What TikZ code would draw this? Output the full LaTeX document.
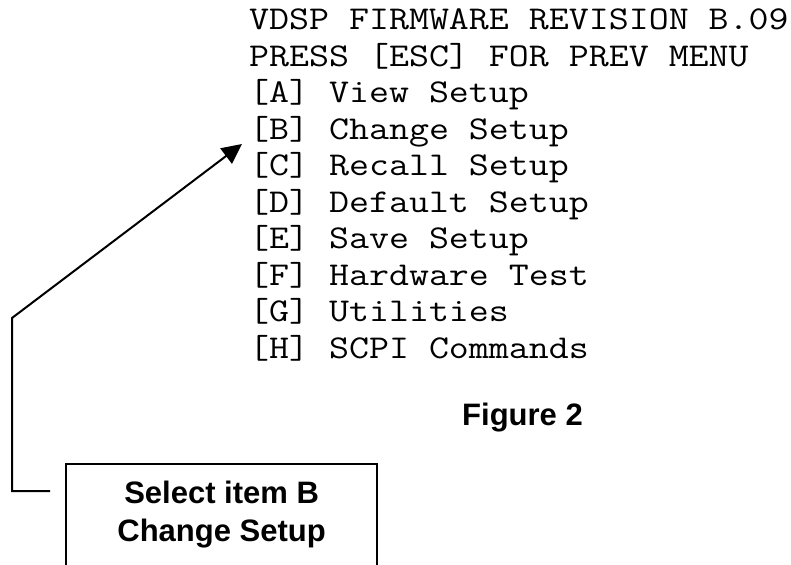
\documentclass[tikz,border=0pt]{standalone}
\usepackage{fontspec}
\newfontfamily\menumono{Latin Modern Mono}[FakeStretch=1.165]
\newfontfamily\labelsans{Liberation Sans}
\usetikzlibrary{arrows.meta}
\tikzset{
  menuline/.style={anchor=base west, inner sep=0pt, font=\menumono\fontsize{33.3}{36}\selectfont},
  boldlabel/.style={inner sep=0pt, font=\labelsans\bfseries\fontsize{31}{38}\selectfont},
  callout/.style={draw, line width=2.2pt, anchor=north west, inner xsep=0pt, inner ysep=0pt,
     minimum width=311pt, text height=39pt, text depth=130pt},
  conn/.style={line width=2pt, -{Triangle[length=20pt,width=19pt]}}
}
\begin{document}
\begin{tikzpicture}[x=1pt,y=-1pt]
\useasboundingbox (0,0) rectangle (791,564);
\node[menuline] (l1) at (249,30) {VDSP FIRMWARE REVISION B.09};
\node[menuline] (l2) at (249,66.4) {PRESS [ESC] FOR PREV MENU};
\node[menuline] (lA) at (249,102.9) {[A] View Setup};
\node[menuline] (lB) at (249,139.3) {[B] Change Setup};
\node[menuline] (lC) at (249,175.8) {[C] Recall Setup};
\node[menuline] (lD) at (249,212.2) {[D] Default Setup};
\node[menuline] (lE) at (249,248.7) {[E] Save Setup};
\node[menuline] (lF) at (249,285.1) {[F] Hardware Test};
\node[menuline] (lG) at (249,321.6) {[G] Utilities};
\node[menuline] (lH) at (249,358) {[H] SCPI Commands};
\node[boldlabel, anchor=base west] (fig) at (462,425) {Figure 2};
\node[boldlabel, callout] (box) at (65,463)
  {\begin{tabular}[t]{@{}c@{}}Select item B\\Change Setup\end{tabular}};
\coordinate (tip) at (242,144);
\draw[conn] ([xshift=-15pt,yshift=-28pt]box.north west) -- ++(-38,0) -- ++(0,-173) -- (tip);
\end{tikzpicture}
\end{document}
